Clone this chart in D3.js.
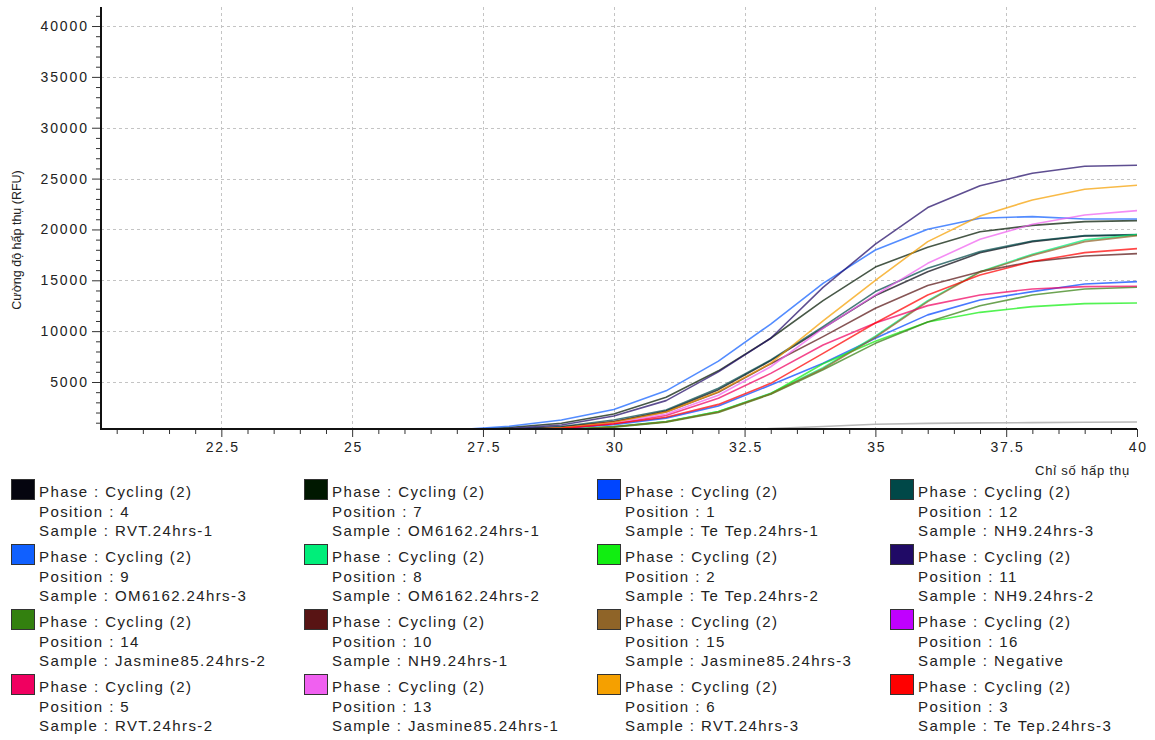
<!DOCTYPE html>
<html>
<head>
<meta charset="utf-8">
<script src="https://cdn.jsdelivr.net/npm/d3@7"></script>
<style>
  html, body { margin: 0; padding: 0; background: #fff; }
  svg { display: block; font-family: "Liberation Sans", Arial, sans-serif; }
</style>
</head>
<body>
<svg id="chart" width="1155" height="740"></svg>
<script>
// Amplification cycles (x values)
const cycles = [27, 28, 29, 30, 31, 32, 33, 34, 35, 36, 37, 38, 39, 40];

// Fluorescence (RFU) per well, one array per sample
const rvt1      = [150, 330, 560, 1100, 2150, 4250, 7100, 10300, 13500, 15850, 17700, 18800, 19350, 19450];
const om6162_1  = [250, 520, 950, 1860, 3500, 6100, 9300, 13000, 16300, 18250, 19780, 20400, 20770, 20870];
const tetep1    = [80, 220, 420, 800, 1450, 2650, 4700, 6850, 9300, 11600, 13070, 13890, 14640, 14870];
const nh9_3     = [170, 350, 620, 1270, 2250, 4380, 7170, 10450, 13890, 16180, 17820, 18870, 19390, 19490];
const om6162_3  = [300, 650, 1270, 2300, 4130, 7050, 10700, 14700, 17980, 20015, 21100, 21260, 21030, 21030];
const om6162_2  = [60, 150, 300, 620, 1120, 2100, 3900, 6400, 9500, 13000, 15850, 17560, 18970, 19490];
const tetep2    = [60, 150, 290, 600, 1100, 2100, 3850, 6800, 9000, 10900, 11850, 12410, 12710, 12770];
const nh9_2     = [200, 420, 780, 1660, 3170, 6000, 9300, 14300, 18550, 22150, 24300, 25520, 26210, 26310];
const jasmine2  = [50, 130, 260, 560, 1050, 2000, 3800, 6200, 8800, 10900, 12500, 13560, 14150, 14310];
const nh9_1     = [130, 300, 530, 1100, 2050, 4000, 6800, 9460, 12250, 14480, 15850, 16840, 17390, 17620];
const jasmine3  = [60, 140, 280, 600, 1100, 2050, 3850, 6300, 9400, 12900, 15800, 17450, 18800, 19390];
const negative  = [0, 0, 20, 50, 100, 200, 420, 620, 840, 930, 980, 1010, 1040, 1070];
const rvt2      = [90, 220, 430, 900, 1700, 3400, 5850, 8640, 10800, 12510, 13560, 14150, 14380, 14410];
const jasmine1  = [110, 260, 480, 1000, 1850, 3700, 6500, 10280, 13560, 16670, 19030, 20510, 21420, 21850];
const rvt3      = [120, 270, 500, 1050, 2050, 4050, 6850, 11000, 15000, 18800, 21330, 22900, 23950, 24340];
const tetep3    = [100, 230, 450, 900, 1530, 2800, 4870, 7820, 10800, 13560, 15530, 16840, 17720, 18110];

// Legend entries in display order
const positions = [4, 7, 1, 12, 9, 8, 2, 11, 14, 10, 15, 16, 5, 13, 6, 3];
const samples = [
  "RVT.24hrs-1", "OM6162.24hrs-1", "Te Tep.24hrs-1", "NH9.24hrs-3",
  "OM6162.24hrs-3", "OM6162.24hrs-2", "Te Tep.24hrs-2", "NH9.24hrs-2",
  "Jasmine85.24hrs-2", "NH9.24hrs-1", "Jasmine85.24hrs-3", "Negative",
  "RVT.24hrs-2", "Jasmine85.24hrs-1", "RVT.24hrs-3", "Te Tep.24hrs-3"
];
const seriesValues = [
  rvt1, om6162_1, tetep1, nh9_3,
  om6162_3, om6162_2, tetep2, nh9_2,
  jasmine2, nh9_1, jasmine3, negative,
  rvt2, jasmine1, rvt3, tetep3
];
const phaseLabel = "Phase : Cycling (2)";

// Axis tick values
const xMajorTicks = [22.5, 25, 27.5, 30, 32.5, 35, 37.5, 40];
const xTickLabels = ["22.5", "25", "27.5", "30", "32.5", "35", "37.5", "40"];
const yMajorTicks = [5000, 10000, 15000, 20000, 25000, 30000, 35000, 40000];
const yTickLabels = ["5000", "10000", "15000", "20000", "25000", "30000", "35000", "40000"];
const xLabel = "Chỉ số hấp thụ";
const yLabel = "Cường độ hấp thụ (RFU)";

// Well colours (legend swatches and lines)
const swatchColors = [
  "#05050f", "#001800", "#0045ff", "#004848",
  "#1060ff", "#00ee7a", "#11ee11", "#200a66",
  "#33800f", "#581414", "#8f6428", "#c000ff",
  "#f00060", "#f060f0", "#f5a000", "#ff0000"
];
const lineColors = swatchColors.map((c, i) => samples[i] === "Negative" ? "#b8b8b8" : c);

const svg = d3.select("#chart");
const plot = { left: 101, right: 1137, top: 7, bottom: 429 };

const x = d3.scaleLinear().domain([20.2, 40]).range([plot.left, plot.right]);
const y = d3.scaleLinear().domain([380, 41870]).range([plot.bottom, plot.top]);

// Minor ticks
const xMinor = d3.range(20.5, 40.01, 0.5).filter(v => !xMajorTicks.some(m => Math.abs(m - v) < 1e-6));
const yMinor = d3.range(1000, 41001, 1000).filter(v => !yMajorTicks.includes(v));

// Grid
const grid = svg.append("g").attr("class", "grid")
  .attr("stroke", "#c4c4c4").attr("stroke-width", 1).attr("stroke-dasharray", "3,3");
grid.selectAll("line.h").data(yMajorTicks).join("line")
  .attr("x1", plot.left).attr("x2", plot.right)
  .attr("y1", d => Math.round(y(d)) + 0.5).attr("y2", d => Math.round(y(d)) + 0.5);
grid.selectAll("line.v").data(xMajorTicks.filter(v => v < 40)).join("line")
  .attr("y1", plot.top).attr("y2", plot.bottom)
  .attr("x1", d => Math.round(x(d)) + 0.5).attr("x2", d => Math.round(x(d)) + 0.5);

// Curves
svg.append("clipPath").attr("id", "plotClip").append("rect")
  .attr("x", plot.left).attr("y", plot.top)
  .attr("width", plot.right - plot.left + 1).attr("height", plot.bottom - plot.top);

const line = d3.line().x((d, i) => x(cycles[i])).y(d => y(d));
svg.append("g").attr("clip-path", "url(#plotClip)")
  .selectAll("path").data(seriesValues).join("path")
  .attr("d", d => line(d))
  .attr("fill", "none")
  .attr("stroke", (d, i) => lineColors[i])
  .attr("stroke-opacity", (d, i) => samples[i] === "Negative" ? 1 : 0.72)
  .attr("stroke-width", 1.6)
  .attr("stroke-linejoin", "round");

// X axis
const xAxisG = svg.append("g").attr("transform", `translate(0,${plot.bottom})`);
xAxisG.call(d3.axisBottom(x).tickValues(xMinor).tickSize(5).tickFormat(""));
xAxisG.call(g => g.select(".domain").remove());
const xMajorG = svg.append("g").attr("transform", `translate(0,${plot.bottom})`);
xMajorG.call(d3.axisBottom(x).tickValues(xMajorTicks).tickSize(8)
  .tickFormat((d, i) => xTickLabels[i]));
xMajorG.select(".domain").remove();
xMajorG.selectAll("text").attr("font-size", 14).attr("fill", "#222")
  .attr("letter-spacing", "1.7px").attr("dx", "0.85px").attr("dy", "0.85em");
svg.selectAll(".tick line").attr("stroke", "#333");

// Y axis
const yAxisG = svg.append("g").attr("transform", `translate(${plot.left},0)`);
yAxisG.call(d3.axisLeft(y).tickValues(yMinor).tickSize(5).tickFormat(""));
yAxisG.select(".domain").remove();
const yMajorG = svg.append("g").attr("transform", `translate(${plot.left},0)`);
yMajorG.call(d3.axisLeft(y).tickValues(yMajorTicks).tickSize(9).tickPadding(5)
  .tickFormat((d, i) => yTickLabels[i]));
yMajorG.select(".domain").remove();
yMajorG.selectAll("text").attr("font-size", 14).attr("fill", "#222")
  .attr("letter-spacing", "1.9px").attr("dx", "1.9px");
svg.selectAll(".tick line").attr("stroke", "#333");

// Axis lines
svg.append("line").attr("x1", plot.left).attr("x2", plot.left)
  .attr("y1", plot.top).attr("y2", plot.bottom + 1)
  .attr("stroke", "#111").attr("stroke-width", 2);
svg.append("line").attr("x1", plot.left - 1).attr("x2", plot.right)
  .attr("y1", plot.bottom).attr("y2", plot.bottom)
  .attr("stroke", "#111").attr("stroke-width", 2);

// Axis titles
svg.append("text").attr("x", 1130).attr("y", 475)
  .attr("text-anchor", "end").attr("font-size", 13).attr("fill", "#222")
  .attr("letter-spacing", "0.8px").text(xLabel);
svg.append("text")
  .attr("transform", `translate(21,240) rotate(-90)`)
  .attr("text-anchor", "middle").attr("font-size", 12.5).attr("fill", "#222")
  .text(yLabel);

// Legend
const colX = [11, 304, 597, 890];
const rowY = [479, 544, 609, 674];
const legend = svg.append("g").attr("class", "legend");
samples.forEach((s, i) => {
  const cx = colX[i % 4], ry = rowY[Math.floor(i / 4)];
  const g = legend.append("g");
  g.append("rect").attr("x", cx + 0.5).attr("y", ry + 0.5)
    .attr("width", 23).attr("height", 20)
    .attr("fill", swatchColors[i]).attr("stroke", "#333").attr("stroke-width", 1);
  const tx = cx + 28;
  const lines = [phaseLabel, `Position : ${positions[i]}`, `Sample : ${s}`];
  lines.forEach((t, k) => {
    g.append("text").attr("x", tx).attr("y", ry + 18 + k * 19.5)
      .attr("font-size", 15).attr("fill", "#222")
      .attr("letter-spacing", "1.4px").text(t);
  });
});
</script>
</body>
</html>
